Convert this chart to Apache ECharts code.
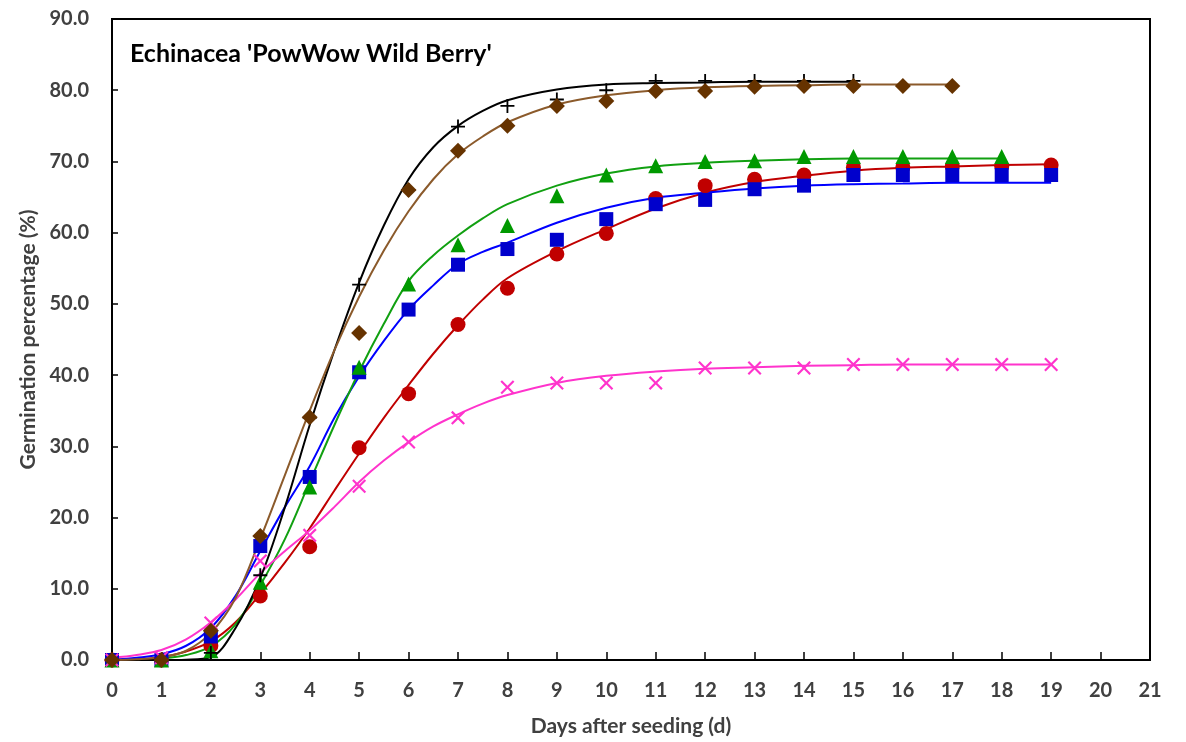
<!DOCTYPE html>
<html>
<head>
<meta charset="utf-8">
<script src="https://cdn.jsdelivr.net/npm/echarts@6/dist/echarts.min.js"></script>
<style>html,body{margin:0;padding:0;background:#fff}#chart{width:1186px;height:742px}</style>
</head>
<body>
<div id="chart"></div>
<script>
// ---- Data ----
const days = [0,1,2,3,4,5,6,7,8,9,10,11,12,13,14,15,16,17,18,19];
const xTicks = [0,1,2,3,4,5,6,7,8,9,10,11,12,13,14,15,16,17,18,19,20,21];
const yTicks = [0,10,20,30,40,50,60,70,80,90];

// observed germination (%)
const obsBlack = [0,0,1.0,11.9,34.0,52.7,66.0,74.9,77.8,78.7,80.0,81.3,81.3,81.3,81.3,81.3];
const obsBrown = [0,0,4.1,17.4,34.1,45.9,66.0,71.5,75.0,77.8,78.5,79.9,79.9,80.5,80.6,80.6,80.6,80.6];
const obsGreen = [0,0,1.3,10.9,24.3,41.1,52.8,58.3,61.0,65.2,68.1,69.4,70.0,70.1,70.7,70.7,70.7,70.7,70.7];
const obsBlue  = [0,0,3.3,16.0,25.7,40.4,49.2,55.5,57.7,59.0,61.9,64.0,64.6,66.1,66.6,68.1,68.1,68.1,68.1,68.1];
const obsRed   = [0,0,2.0,9.0,15.9,29.8,37.4,47.1,52.2,57.0,59.9,64.8,66.6,67.5,68.1,69.2,69.2,69.3,69.3,69.5];
const obsPink  = [0,0.3,5.2,13.9,17.5,24.4,30.6,34.0,38.3,38.9,38.9,38.9,41.0,41.0,41.0,41.5,41.5,41.5,41.5,41.5];

// fitted curves, sampled at these days
const fitDays = [0,0.5,1,1.5,2,2.5,3,3.5,4,4.5,5,5.5,6,6.5,7,7.5,8,9,10,11,12,13,14,15,16,17,18,19];
const fitBlack = [0,0,0,0.05,0.4,4.5,11.5,21.5,33,43.5,53,61,67.5,72,75.0,77.1,78.6,80.1,80.8,81.0,81.1,81.2,81.2,81.2];
const fitBrown = [0,0.1,0.4,1.3,3.8,8.7,17,26,35,43.5,51,57.5,63,67.5,71,73.5,75.5,78,79.3,80,80.4,80.6,80.7,80.8,80.8,80.8];
const fitGreen = [0,0,0.2,0.7,1.9,5,10.5,17,25,33,40.5,47.2,53.2,56.8,59.6,62,64.0,66.6,68.3,69.3,69.8,70.1,70.3,70.4,70.4,70.4,70.4];
const fitBlue  = [0,0.3,0.8,2,4.5,9,15.3,21.5,27.2,34,39.8,44.8,49.2,52.6,55.6,57.3,58.6,61.4,63.5,64.9,65.6,66.2,66.6,66.8,66.9,67.0,67.0,67.0];
const fitRed   = [0,0.1,0.4,1.2,2.6,5.3,9.3,13.7,18.5,23.8,29,34,38.6,43,47,50.6,53.6,57.4,60.5,63.4,65.6,67.1,68.0,68.7,69.1,69.3,69.5,69.6];
const fitPink  = [0.3,0.7,1.4,2.9,5.3,8.5,12.2,15.3,18.2,21.5,25.0,28.0,30.6,32.8,34.5,36.0,37.2,38.9,39.9,40.5,40.9,41.1,41.3,41.4,41.5,41.5,41.5,41.5];

const titleText = "Echinacea 'PowWow Wild Berry'";
const xName = 'Days after seeding (d)';
const yName = 'Germination percentage (%)';

// ---- Chart ----
const plusPath = 'path://M4.35,0H5.65V4.35H10V5.65H5.65V10H4.35V5.65H0V4.35H4.35Z';
const crossPath = 'path://M0,1.1L1.1,0L5,3.9L8.9,0L10,1.1L6.1,5L10,8.9L8.9,10L5,6.1L1.1,10L0,8.9L3.9,5Z';

function pairs(xs, ys){ return ys.map((v,i)=>[xs[i], v]); }

const groups = [
  {obs: obsRed,   fit: fitRed,   line:'#C00000', mark:'#C00000', symbol:'circle',   size:15, z:3},
  {obs: obsBlue,  fit: fitBlue,  line:'#0000FF', mark:'#0000CC', symbol:'rect',     size:14, z:4},
  {obs: obsGreen, fit: fitGreen, line:'#11A011', mark:'#009900', symbol:'triangle', size:15, z:5},
  {obs: obsPink,  fit: fitPink,  line:'#FF33CC', mark:'#FF33CC', symbol:crossPath,  size:14, z:6},
  {obs: obsBlack, fit: fitBlack, line:'#000000', mark:'#000000', symbol:plusPath,   size:14, z:7},
  {obs: obsBrown, fit: fitBrown, line:'#8B5A2B', mark:'#663300', symbol:'diamond',  size:16, z:8}
];

const series = [];
groups.forEach(g => {
  series.push({
    type:'line', data: pairs(fitDays, g.fit), smooth: 0.35, showSymbol:false,
    lineStyle:{color:g.line, width:2}, z:2, silent:true, animation:false
  });
});
groups.forEach(g => {
  series.push({
    type:'scatter', data: pairs(days, g.obs), symbol:g.symbol, symbolSize:g.size,
    itemStyle:{color:g.mark, opacity:1}, z:g.z, animation:false
  });
});

const chart = echarts.init(document.getElementById('chart'), null, {renderer:'canvas'});
const labelFont = {fontFamily:'Lato', fontWeight:'bold', fontSize:20, color:'#404040'};
const nameFont = {fontFamily:'Lato', fontWeight:'bold', fontSize:21, color:'#404040'};
chart.setOption({
  backgroundColor:'#fff',
  animation:false,
  grid:{left:112, right:36, top:19, bottom:69, show:true, borderColor:'#000', borderWidth:2, backgroundColor:'transparent'},
  title:{text:titleText, left:125, top:36, textStyle:{fontFamily:'Lato', fontWeight:'bold', fontSize:25, color:'#000'}},
  xAxis:{
    type:'value', min:xTicks[0], max:xTicks[xTicks.length-1], interval:1,
    name:xName, nameLocation:'middle', nameGap:56,
    nameTextStyle:nameFont,
    axisLine:{show:true, onZero:false, lineStyle:{color:'#000', width:2}},
    axisTick:{show:true, inside:true, length:8, lineStyle:{color:'#000', width:1.5}},
    axisLabel:{...labelFont, margin:21},
    splitLine:{show:false}
  },
  yAxis:{
    type:'value', min:yTicks[0], max:yTicks[yTicks.length-1], interval:10,
    name:yName, nameLocation:'middle', nameGap:70,
    nameTextStyle:nameFont,
    axisLine:{show:true, lineStyle:{color:'#000', width:2}},
    axisTick:{show:true, inside:true, length:6, lineStyle:{color:'#000', width:1.5}},
    axisLabel:{...labelFont, margin:23, formatter:v=>v.toFixed(1)},
    splitLine:{show:false}
  },
  series
});
</script>
</body>
</html>
